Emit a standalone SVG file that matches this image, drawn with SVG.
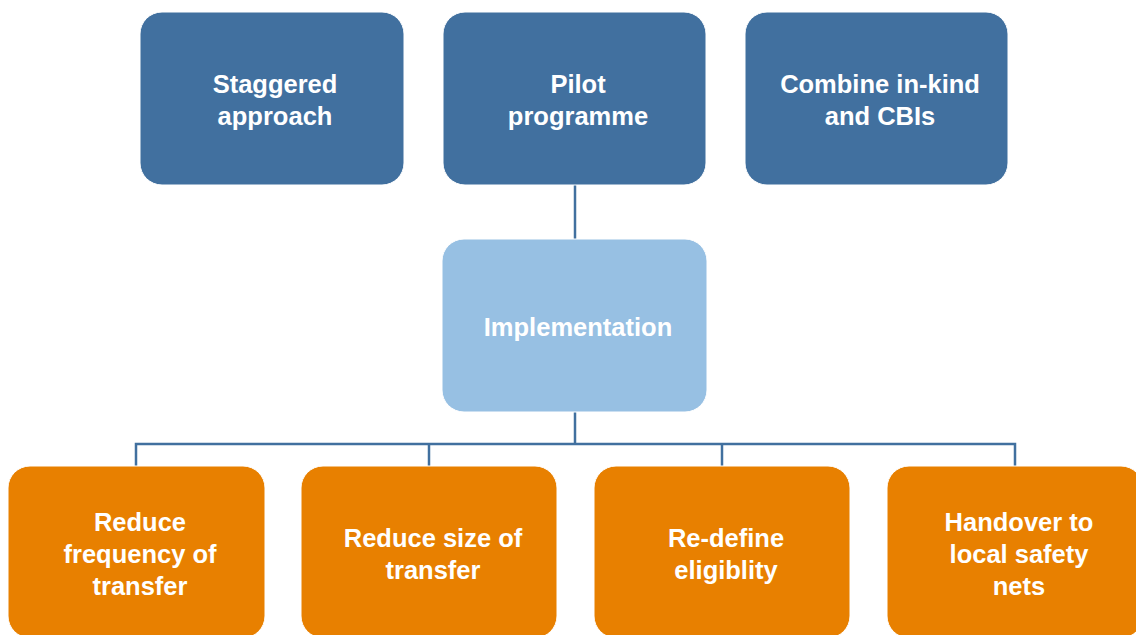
<svg xmlns="http://www.w3.org/2000/svg" width="1136" height="635" viewBox="0 0 1136 635">
<style>
.dark{fill:#41709F;stroke:#ffffff;stroke-width:1}
.light{fill:#97C0E3;stroke:#ffffff;stroke-width:1}
.orange{fill:#E88000;stroke:#ffffff;stroke-width:1}
.t{font-family:"Liberation Sans",Arial,sans-serif;font-weight:bold;font-size:25.5px;fill:#ffffff;text-anchor:middle}
.c{fill:none;stroke:#41709F;stroke-width:2.5}
</style>
<rect width="1136" height="635" fill="#ffffff"/>
<g id="connectors">
<path class="c" d="M575,185 V239"/>
<path class="c" d="M575,412 V444"/>
<path class="c" d="M136,466 V444 H1015 V466"/>
<path class="c" d="M429,444 V466"/>
<path class="c" d="M722,444 V466"/>
</g>
<g id="staggered">
<rect class="dark" x="140" y="12" width="264" height="173" rx="22"/>
<text class="t" x="275" y="93">Staggered</text>
<text class="t" x="275" y="125">approach</text>
</g>
<g id="pilot">
<rect class="dark" x="443" y="12" width="263" height="173" rx="22"/>
<text class="t" x="578" y="93">Pilot</text>
<text class="t" x="578" y="125">programme</text>
</g>
<g id="combine">
<rect class="dark" x="745" y="12" width="263" height="173" rx="22"/>
<text class="t" x="880" y="93">Combine in-kind</text>
<text class="t" x="880" y="125">and CBIs</text>
</g>
<g id="implementation">
<rect class="light" x="442" y="239" width="265" height="173" rx="22"/>
<text class="t" x="578" y="336">Implementation</text>
</g>
<g id="reduce-frequency">
<rect class="orange" x="8" y="466" width="257" height="172" rx="22"/>
<text class="t" x="140" y="531">Reduce</text>
<text class="t" x="140" y="563">frequency of</text>
<text class="t" x="140" y="595">transfer</text>
</g>
<g id="reduce-size">
<rect class="orange" x="301" y="466" width="256" height="172" rx="22"/>
<text class="t" x="433" y="547">Reduce size of</text>
<text class="t" x="433" y="579">transfer</text>
</g>
<g id="redefine">
<rect class="orange" x="594" y="466" width="256" height="172" rx="22"/>
<text class="t" x="726" y="547">Re-define</text>
<text class="t" x="726" y="579">eligiblity</text>
</g>
<g id="handover">
<rect class="orange" x="887" y="466" width="256" height="172" rx="22"/>
<text class="t" x="1019" y="531">Handover to</text>
<text class="t" x="1019" y="563">local safety</text>
<text class="t" x="1019" y="595">nets</text>
</g>
</svg>
